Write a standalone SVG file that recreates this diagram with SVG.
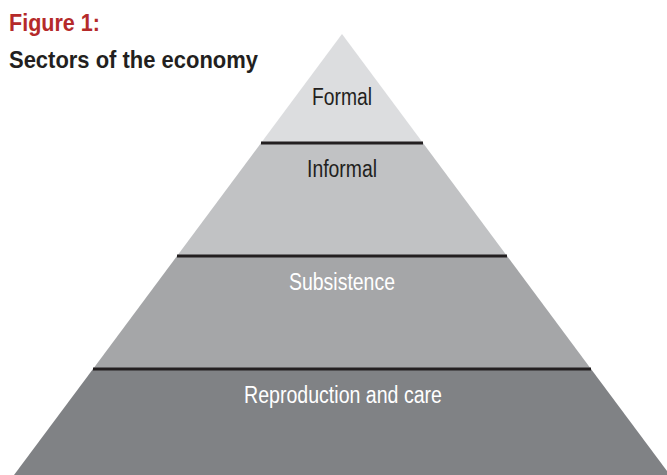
<svg xmlns="http://www.w3.org/2000/svg" width="667" height="475" viewBox="0 0 667 475">
<style>
.lbl{font-family:"Liberation Sans",Arial,sans-serif;font-size:23px;text-anchor:middle}
.dark{fill:#231f20}
.light{fill:#ffffff}
.sep{stroke:#231f20;stroke-width:3}
.title{font-family:"Liberation Sans",Arial,sans-serif;font-weight:bold;font-size:24px}
</style>
<rect width="667" height="475" fill="#ffffff"/>
<g id="title">
<text class="title" x="9" y="31" fill="#b52a2a" textLength="91" lengthAdjust="spacingAndGlyphs">Figure 1:</text>
<text class="title" x="9" y="68" fill="#231f20" textLength="249" lengthAdjust="spacingAndGlyphs">Sectors of the economy</text>
</g>
<g id="formal">
<polygon points="342,34 423,143 261,143" fill="#dcdddf"/>
<text class="lbl dark" x="342" y="105" textLength="60" lengthAdjust="spacingAndGlyphs">Formal</text>
</g>
<g id="informal">
<polygon points="261,143 423,143 507,256 177,256" fill="#c1c2c4"/>
<text class="lbl dark" x="342" y="177" textLength="70" lengthAdjust="spacingAndGlyphs">Informal</text>
</g>
<g id="subsistence">
<polygon points="177,256 507,256 591,369 93,369" fill="#a5a6a8"/>
<text class="lbl light" x="342" y="290" textLength="106" lengthAdjust="spacingAndGlyphs">Subsistence</text>
</g>
<g id="reproduction">
<polygon points="93,369 591,369 670,475 14,475" fill="#808285"/>
<text class="lbl light" x="343" y="403" textLength="198" lengthAdjust="spacingAndGlyphs">Reproduction and care</text>
</g>
<g id="connectors">
<line class="sep" x1="261" y1="143" x2="423" y2="143"/>
<line class="sep" x1="177" y1="256" x2="507" y2="256"/>
<line class="sep" x1="93" y1="369" x2="591" y2="369"/>
</g>
</svg>
